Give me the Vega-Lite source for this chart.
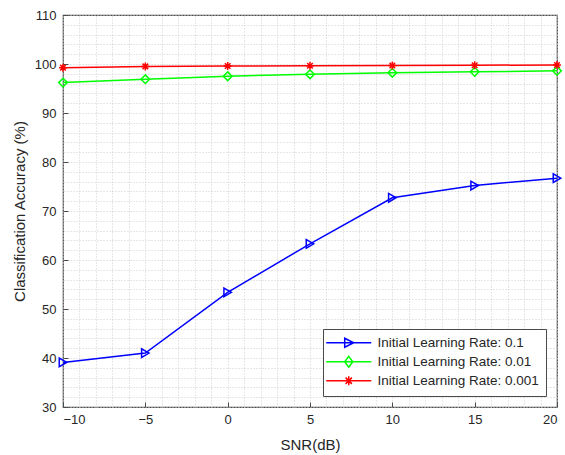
{
  "$schema": "https://vega.github.io/schema/vega-lite/v6.json",
  "autosize": {"type": "none"},
  "width": 494,
  "height": 392,
  "padding": {"left": 63, "top": 15, "right": 8, "bottom": 48},
  "background": "white",
  "config": {
    "font": "Liberation Sans",
    "view": {"stroke": "#4a4a4a", "strokeWidth": 1.2},
    "axis": {
      "labelFont": "Liberation Sans",
      "titleFont": "Liberation Sans",
      "labelColor": "#262626",
      "titleColor": "#262626",
      "labelFontSize": 13,
      "titleFontSize": 15,
      "titleFontWeight": "normal",
      "domain": false,
      "tickColor": "#4a4a4a",
      "gridColor": "#cfcfcf",
      "gridDash": [1, 2],
      "gridWidth": 1
    }
  },
  "data": {
    "values": [
      {"snr": -10, "acc": 39.1, "series": "Initial Learning Rate: 0.1"},
      {"snr": -5, "acc": 41.0, "series": "Initial Learning Rate: 0.1"},
      {"snr": 0, "acc": 53.4, "series": "Initial Learning Rate: 0.1"},
      {"snr": 5, "acc": 63.3, "series": "Initial Learning Rate: 0.1"},
      {"snr": 10, "acc": 72.7, "series": "Initial Learning Rate: 0.1"},
      {"snr": 15, "acc": 75.2, "series": "Initial Learning Rate: 0.1"},
      {"snr": 20, "acc": 76.7, "series": "Initial Learning Rate: 0.1"},
      {"snr": -10, "acc": 96.2, "series": "Initial Learning Rate: 0.01"},
      {"snr": -5, "acc": 96.9, "series": "Initial Learning Rate: 0.01"},
      {"snr": 0, "acc": 97.5, "series": "Initial Learning Rate: 0.01"},
      {"snr": 5, "acc": 97.9, "series": "Initial Learning Rate: 0.01"},
      {"snr": 10, "acc": 98.2, "series": "Initial Learning Rate: 0.01"},
      {"snr": 15, "acc": 98.4, "series": "Initial Learning Rate: 0.01"},
      {"snr": 20, "acc": 98.6, "series": "Initial Learning Rate: 0.01"},
      {"snr": -10, "acc": 99.25, "series": "Initial Learning Rate: 0.001"},
      {"snr": -5, "acc": 99.5, "series": "Initial Learning Rate: 0.001"},
      {"snr": 0, "acc": 99.6, "series": "Initial Learning Rate: 0.001"},
      {"snr": 5, "acc": 99.65, "series": "Initial Learning Rate: 0.001"},
      {"snr": 10, "acc": 99.7, "series": "Initial Learning Rate: 0.001"},
      {"snr": 15, "acc": 99.75, "series": "Initial Learning Rate: 0.001"},
      {"snr": 20, "acc": 99.8, "series": "Initial Learning Rate: 0.001"}
    ]
  },
  "resolve": {"axis": {"x": "independent", "y": "independent"}},
  "layer": [
    {
      "mark": {"type": "point", "opacity": 0, "size": 1},
      "encoding": {
        "x": {
          "field": "snr", "type": "quantitative",
          "scale": {"domain": [-10, 20], "nice": false, "zero": false},
          "axis": {"orient": "top", "title": null, "labels": false, "ticks": false, "grid": true,
                   "values": [-10,-9,-8,-7,-6,-5,-4,-3,-2,-1,0,1,2,3,4,5,6,7,8,9,10,11,12,13,14,15,16,17,18,19,20]}
        },
        "y": {
          "field": "acc", "type": "quantitative",
          "scale": {"domain": [30, 110], "nice": false, "zero": false},
          "axis": {"orient": "right", "title": null, "labels": false, "ticks": false, "grid": true,
                   "values": [30,32,34,36,38,40,42,44,46,48,50,52,54,56,58,60,62,64,66,68,70,72,74,76,78,80,82,84,86,88,90,92,94,96,98,100,102,104,106,108,110]}
        }
      }
    },
    {
      "mark": {"type": "line", "strokeWidth": 1.5},
      "encoding": {
        "x": {
          "field": "snr", "type": "quantitative",
          "axis": {"orient": "bottom", "title": "SNR(dB)", "grid": false, "tickSize": -5, "labelPadding": 11, "titlePadding": 11,
                   "values": [-10, -5, 0, 5, 10, 15, 20]}
        },
        "y": {
          "field": "acc", "type": "quantitative",
          "axis": {"orient": "left", "title": "Classification Accuracy (%)", "grid": false, "tickSize": -5, "labelPadding": 12, "titlePadding": 7,
                   "values": [30, 40, 50, 60, 70, 80, 90, 100, 110]}
        },
        "color": {
          "field": "series", "type": "nominal",
          "scale": {
            "domain": ["Initial Learning Rate: 0.1", "Initial Learning Rate: 0.01", "Initial Learning Rate: 0.001"],
            "range": ["#0000ff", "#00ff00", "#ff0000"]
          },
          "legend": {
            "title": null,
            "orient": "bottom-right",
            "offset": 11,
            "fillColor": "white",
            "strokeColor": "#4a4a4a",
            "padding": 7,
            "rowPadding": 2,
            "symbolSize": 81,
            "symbolOffset": 12,
            "labelOffset": 22,
            "symbolStrokeWidth": 1.5,
            "labelFont": "Liberation Sans",
            "labelFontSize": 13.5,
            "labelColor": "#262626",
            "labelLimit": 300,
            "encode": {
              "symbols": {
                "update": {
                  "shape": {"signal": "datum.value === 'Initial Learning Rate: 0.1' ? 'M-5,0L5,0M-0.9,-1L1.1,0L-0.9,1Z' : datum.value === 'Initial Learning Rate: 0.01' ? 'M-5,0L5,0M0,-1.2L0.9,0L0,1.2L-0.9,0Z' : 'M-5,0L5,0M-1,0L1,0M0,-1L0,1M-0.7,-0.7L0.7,0.7M-0.7,0.7L0.7,-0.7'"},
                  "fill": {"value": "transparent"}
                }
              }
            }
          }
        }
      }
    },
    {
      "transform": [{"filter": "datum.series === 'Initial Learning Rate: 0.1'"}],
      "mark": {"type": "point", "shape": "triangle-right", "filled": false, "color": "#0000ff", "strokeWidth": 1.5, "size": 75, "opacity": 1},
      "encoding": {
        "x": {"field": "snr", "type": "quantitative", "axis": null},
        "y": {"field": "acc", "type": "quantitative", "axis": null}
      }
    },
    {
      "transform": [{"filter": "datum.series === 'Initial Learning Rate: 0.01'"}],
      "mark": {"type": "point", "shape": "diamond", "filled": false, "color": "#00ff00", "strokeWidth": 1.5, "size": 75, "opacity": 1},
      "encoding": {
        "x": {"field": "snr", "type": "quantitative", "axis": null},
        "y": {"field": "acc", "type": "quantitative", "axis": null}
      }
    },
    {
      "transform": [{"filter": "datum.series === 'Initial Learning Rate: 0.001'"}],
      "mark": {"type": "point", "shape": "M-1,0L1,0M0,-1L0,1M-0.7,-0.7L0.7,0.7M-0.7,0.7L0.7,-0.7", "filled": false, "color": "#ff0000", "strokeWidth": 1.5, "size": 64, "opacity": 1},
      "encoding": {
        "x": {"field": "snr", "type": "quantitative", "axis": null},
        "y": {"field": "acc", "type": "quantitative", "axis": null}
      }
    }
  ]
}
